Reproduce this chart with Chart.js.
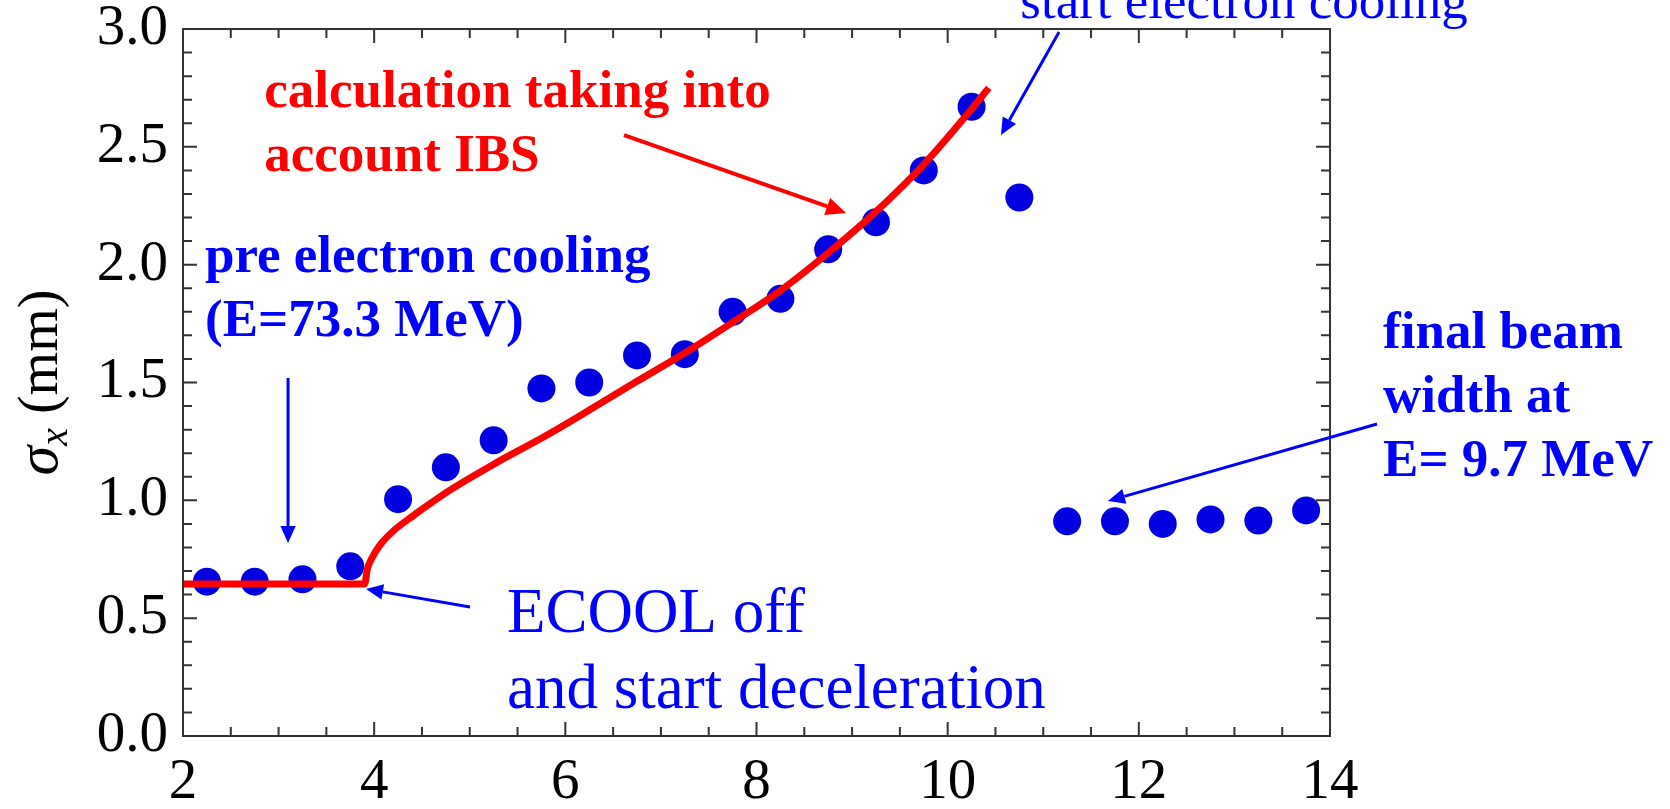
<!DOCTYPE html>
<html>
<head>
<meta charset="utf-8">
<title>sigma x</title>
<script src="https://cdn.jsdelivr.net/npm/chart.js"></script>
<style>
  body { margin: 0; background: white; }
  #myChart { display: block; }
</style>
</head>
<body>
<canvas id="myChart" width="1670" height="809"></canvas>
<script>
let ctx = document.querySelector("#myChart");
const serif = "'Liberation Serif', 'Times New Roman', serif";

// puntos medidos
const xMedidos = [2.25, 2.75, 3.25, 3.75, 4.25, 4.75, 5.25, 5.75, 6.25, 6.75, 7.25, 7.75,
                  8.25, 8.75, 9.25, 9.75, 10.25, 10.75, 11.25, 11.75, 12.25, 12.75, 13.25, 13.75];
const yMedidos = [0.655, 0.655, 0.665, 0.72, 1.005, 1.14, 1.255, 1.475, 1.50, 1.615, 1.62, 1.80,
                  1.855, 2.065, 2.18, 2.40, 2.67, 2.285, 0.911, 0.911, 0.90, 0.919, 0.914, 0.957];

// curva calculada (IBS)
const xCalculo = [2.0, 3.9, 3.93, 3.97, 4.06, 4.2, 4.41, 4.6, 4.76, 5.28, 5.8, 6.26,
                  6.75, 7.25, 7.75, 8.25, 8.75, 9.25, 9.76, 10.25, 10.43];
const yCalculo = [0.645, 0.645, 0.71, 0.75, 0.81, 0.87, 0.935, 0.99, 1.035, 1.16, 1.275, 1.385,
                  1.505, 1.625, 1.755, 1.89, 2.05, 2.225, 2.43, 2.66, 2.75];

const xTicks = [2, 4, 6, 8, 10, 12, 14];
const xLabels = ["2", "4", "6", "8", "10", "12", "14"];
const yTicks = [0, 0.5, 1, 1.5, 2, 2.5, 3];
const yLabels = ["0.0", "0.5", "1.0", "1.5", "2.0", "2.5", "3.0"];

// textos y flechas, en coordenadas de datos
const textos = [
  { lineas: ["calculation taking into", "account IBS"], x: 2.85, y: 2.67, color: "#ff0000", font: "bold 53px " + serif },
  { lineas: ["start electron cooling"], x: 10.76, y: 3.047, color: "#0000ff", font: "53px " + serif },
  { lineas: ["pre electron cooling", "(E=73.3 MeV)"], x: 2.23, y: 1.969, color: "#0000ff", font: "bold 53px " + serif },
  { lineas: ["ECOOL off", "and start deceleration"], x: 5.39, y: 0.441, color: "#0000ff", font: "63px " + serif },
  { lineas: ["final beam", "width at", "E= 9.7 MeV"], x: 14.555, y: 1.646, color: "#0000ff", font: "bold 53px " + serif }
];
const flechas = [
  { x1: 6.614, y1: 2.55, x2: 8.937, y2: 2.219, color: "#ff0000", ancho: 4, cabeza: 20 },
  { x1: 11.165, y1: 2.987, x2: 10.558, y2: 2.55, color: "#0000ff", ancho: 3, cabeza: 17 },
  { x1: 3.099, y1: 1.519, x2: 3.099, y2: 0.819, color: "#0000ff", ancho: 3, cabeza: 17 },
  { x1: 5.003, y1: 0.547, x2: 3.915, y2: 0.624, color: "#0000ff", ancho: 3, cabeza: 17 },
  { x1: 14.492, y1: 1.324, x2: 11.677, y2: 0.997, color: "#0000ff", ancho: 3, cabeza: 17 }
];

function flecha(c, x1, y1, x2, y2, color, ancho, cabeza) {
  let ang = Math.atan2(y2 - y1, x2 - x1);
  let bx = x2 - cabeza * Math.cos(ang);
  let by = y2 - cabeza * Math.sin(ang);
  let w = cabeza * 0.45;
  c.strokeStyle = color;
  c.fillStyle = color;
  c.lineWidth = ancho;
  c.beginPath();
  c.moveTo(x1, y1);
  c.lineTo(bx, by);
  c.stroke();
  c.beginPath();
  c.moveTo(x2, y2);
  c.lineTo(bx + w * Math.sin(ang), by - w * Math.cos(ang));
  c.lineTo(bx - w * Math.sin(ang), by + w * Math.cos(ang));
  c.closePath();
  c.fill();
}

// marco con ticks hacia adentro en los cuatro lados
const marco = {
  id: "marco",
  afterDatasetsDraw(chart) {
    let c = chart.ctx;
    let a = chart.chartArea;
    let sx = chart.scales.x, sy = chart.scales.y;
    c.save();
    c.strokeStyle = "#333";
    c.lineWidth = 2;
    c.beginPath();
    for (let i = 0; i <= 24; i++) {
      let px = sx.getPixelForValue(2 + i * 0.5);
      let largo = (i % 4 == 0) ? 14 : 9;
      c.moveTo(px, a.bottom); c.lineTo(px, a.bottom - largo);
      c.moveTo(px, a.top); c.lineTo(px, a.top + largo);
    }
    for (let i = 0; i <= 30; i++) {
      let py = sy.getPixelForValue(i / 10);
      let largo = (i % 5 == 0) ? 14 : 9;
      c.moveTo(a.left, py); c.lineTo(a.left + largo, py);
      c.moveTo(a.right, py); c.lineTo(a.right - largo, py);
    }
    c.stroke();
    c.strokeRect(a.left, a.top, a.right - a.left, a.bottom - a.top);
    c.restore();
  },
  afterDraw(chart) {
    let c = chart.ctx;
    let a = chart.chartArea;
    let sx = chart.scales.x, sy = chart.scales.y;
    c.save();
    flechas.forEach(f => {
      flecha(c, sx.getPixelForValue(f.x1), sy.getPixelForValue(f.y1),
             sx.getPixelForValue(f.x2), sy.getPixelForValue(f.y2), f.color, f.ancho, f.cabeza);
    });
    c.textAlign = "left";
    c.textBaseline = "alphabetic";
    textos.forEach(t => {
      c.font = t.font;
      c.fillStyle = t.color;
      let size = parseFloat(t.font.match(/(\d+)px/)[1]);
      t.lineas.forEach((l, i) => {
        c.fillText(l, sx.getPixelForValue(t.x), sy.getPixelForValue(t.y) + i * size * 1.21);
      });
    });

    // titulo del eje y: sigma_x (mm)
    c.translate(57, (a.top + a.bottom) / 2);
    c.rotate(-Math.PI / 2);
    c.fillStyle = "#000";
    let f1 = "italic 60px " + serif, f2 = "italic 40px " + serif, f3 = "56px " + serif;
    c.font = f1; let w1 = c.measureText("σ").width;
    c.font = f2; let w2 = c.measureText("x").width;
    c.font = f3; let w3 = c.measureText(" (mm)").width;
    let x0 = -(w1 + w2 + w3) / 2;
    c.font = f1; c.fillText("σ", x0, 0);
    c.font = f2; c.fillText("x", x0 + w1, 10);
    c.font = f3; c.fillText(" (mm)", x0 + w1 + w2, 0);
    c.restore();
  }
};

let puntos = xMedidos.map((x, i) => ({ x: x, y: yMedidos[i] }));
let curva = xCalculo.map((x, i) => ({ x: x, y: yCalculo[i] }));

let config = {
  type: "scatter",
  data: {
    datasets: [
      {
        type: "line",
        data: curva,
        borderColor: "#ff0000",
        borderWidth: 7,
        pointRadius: 0,
        fill: false,
        cubicInterpolationMode: "monotone"
      },
      {
        data: puntos,
        backgroundColor: "#0000e0",
        borderWidth: 0,
        pointRadius: 14
      }
    ]
  },
  options: {
    responsive: false,
    animation: false,
    layout: { padding: { top: 29, right: 340, left: 0, bottom: 0 } },
    plugins: { legend: { display: false }, tooltip: { enabled: false } },
    scales: {
      x: {
        type: "linear", min: 2, max: 14,
        grid: { display: false, drawTicks: false },
        border: { display: false },
        afterBuildTicks: (s) => { s.ticks = xTicks.map(v => ({ value: v })); },
        afterFit: (s) => { s.height = 73; s.paddingLeft = 0; s.paddingRight = 0; },
        ticks: {
          color: "#000", padding: 19, maxRotation: 0,
          font: { family: serif, size: 57, lineHeight: 1 },
          callback: (v, i) => xLabels[i]
        }
      },
      y: {
        type: "linear", min: 0, max: 3,
        grid: { display: false, drawTicks: false },
        border: { display: false },
        afterBuildTicks: (s) => { s.ticks = yTicks.map(v => ({ value: v })); },
        afterFit: (s) => { s.width = 183; s.paddingTop = 0; s.paddingBottom = 0; },
        ticks: {
          color: "#000", padding: 15,
          font: { family: serif, size: 57, lineHeight: 1 },
          callback: (v, i) => yLabels[i]
        }
      }
    }
  },
  plugins: [marco]
};

let myChart = new Chart(ctx, config);
</script>
</body>
</html>
